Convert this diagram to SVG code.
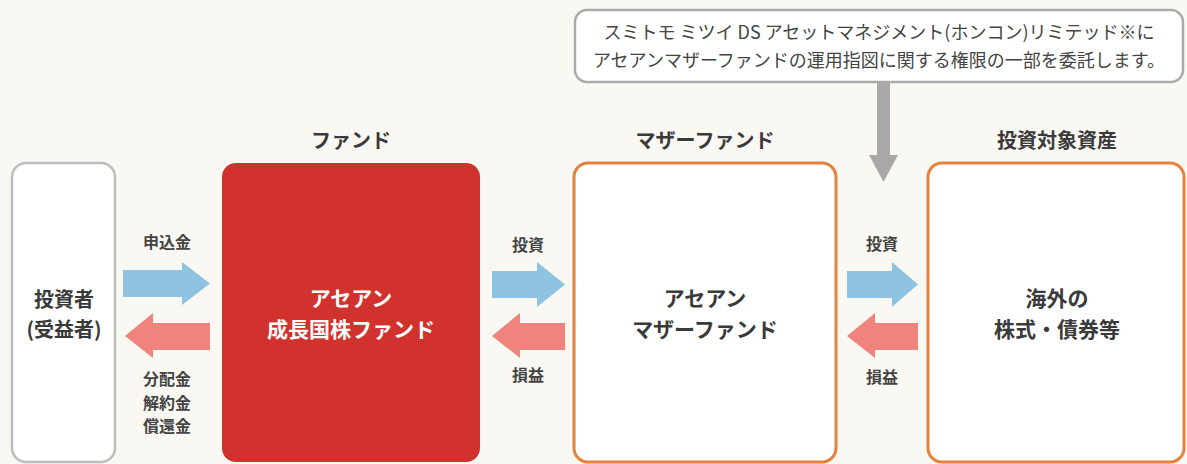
<svg xmlns="http://www.w3.org/2000/svg" width="1187" height="464" viewBox="0 0 1187 464">
<style>
text{font-family:"Noto Sans CJK JP","Noto Sans",sans-serif;text-anchor:middle;fill:#3a3a3a}
.hdr{font-size:20px;font-weight:700}
.big{font-size:21px;font-weight:700}
.wbig{font-size:21px;font-weight:700;fill:#ffffff}
.lbl{font-size:16px;font-weight:700;fill:#444}
.note{font-size:18px;font-weight:400;fill:#444}
.blue{fill:#8ec3e2}
.red{fill:#f0847c}
.gray{fill:#a8a8a8}
.obox{fill:#ffffff;stroke:#e4823e;stroke-width:3}
</style>
<rect width="1187" height="464" fill="#faf8f2"/>

<g id="callout">
<rect x="575" y="10" width="608" height="72" rx="12" fill="#ffffff" stroke="#aaaaaa" stroke-width="2.5"/>
<text class="note" x="879" y="39">スミトモ ミツイ DS アセットマネジメント(ホンコン)リミテッド※に</text>
<text class="note" x="879" y="67">アセアンマザーファンドの運用指図に関する権限の一部を委託します。</text>
</g>

<g id="investor">
<rect x="12" y="163" width="103" height="299" rx="14" fill="#ffffff" stroke="#bdbdbd" stroke-width="2.5"/>
<text class="big" x="64" y="307" style="font-size:20px">投資者</text>
<text class="big" x="64" y="337" style="font-size:20px">(受益者)</text>
</g>

<g id="fund">
<text class="hdr" x="351" y="148">ファンド</text>
<rect x="222" y="163" width="258" height="299" rx="14" fill="#d2322d"/>
<text class="wbig" x="351" y="306">アセアン</text>
<text class="wbig" x="351" y="337">成長国株ファンド</text>
</g>

<g id="mother">
<text class="hdr" x="705" y="148">マザーファンド</text>
<rect class="obox" x="574" y="163" width="262" height="299" rx="14"/>
<text class="big" x="705" y="306">アセアン</text>
<text class="big" x="705" y="337">マザーファンド</text>
</g>

<g id="assets">
<text class="hdr" x="1057" y="148">投資対象資産</text>
<rect class="obox" x="928" y="163" width="256" height="299" rx="14"/>
<text class="big" x="1057" y="306">海外の</text>
<text class="big" x="1057" y="337">株式・債券等</text>
</g>

<g id="connectors">
<polygon class="gray" points="877,82 890,82 890,155 898,155 883.5,182 869,155 877,155"/>

<polygon class="blue" points="123,270 182,270 182,262 210,283.5 182,305 182,297 123,297"/>
<polygon class="red" points="210,323 153,323 153,313 125,336 153,358 153,350 210,350"/>
<text class="lbl" x="167" y="248">申込金</text>
<text class="lbl" x="167" y="385">分配金</text>
<text class="lbl" x="167" y="409">解約金</text>
<text class="lbl" x="167" y="432">償還金</text>

<polygon class="blue" points="492,271 537,271 537,262 565,284.5 537,307 537,298 492,298"/>
<polygon class="red" points="565,323 520,323 520,313 492,336 520,358 520,350 565,350"/>
<text class="lbl" x="528" y="251">投資</text>
<text class="lbl" x="528" y="381">損益</text>

<polygon class="blue" points="847,271 892,271 892,262 918,284.5 892,307 892,298 847,298"/>
<polygon class="red" points="918,323 875,323 875,313 847,336 875,358 875,350 918,350"/>
<text class="lbl" x="882" y="250">投資</text>
<text class="lbl" x="882" y="383">損益</text>
</g>
</svg>
